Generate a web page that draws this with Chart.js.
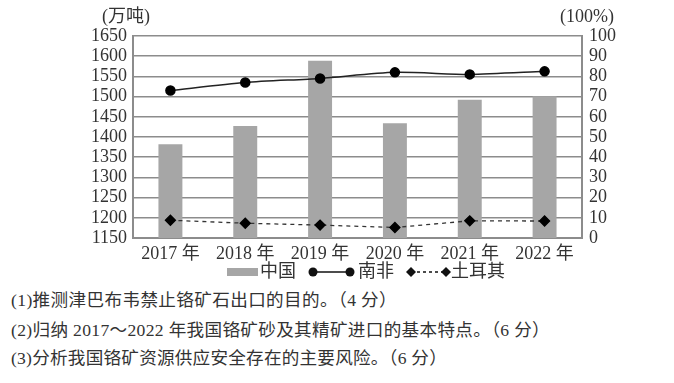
<!DOCTYPE html>
<html>
<head>
<meta charset="utf-8">
<script src="https://cdn.jsdelivr.net/npm/chart.js@4.4.0/dist/chart.umd.min.js"></script>
<style>
  html, body { margin: 0; padding: 0; background: #fff; }
  #wrap { position: relative; width: 674px; height: 383px; overflow: hidden; }
  canvas { position: absolute; left: 0; top: 0; }
  .q { position: absolute; left: 11px; white-space: nowrap; color: #333;
       font-family: "Liberation Serif", "Noto Sans CJK SC", serif; font-size: 17.6px; line-height: 20px; }
</style>
</head>
<body>
<div id="wrap">
  <canvas id="c" width="674" height="285"></canvas>
  <div class="q" data-right="397" style="top:290px">(1)推测津巴布韦禁止铬矿石出口的目的。（4 分）</div>
  <div class="q" data-right="550" style="top:320px">(2)归纳 2017～2022 年我国铬矿砂及其精矿进口的基本特点。（6 分）</div>
  <div class="q" data-right="447" style="top:348px">(3)分析我国铬矿资源供应安全存在的主要风险。（6 分）</div>
</div>
<script>
const categories = ["2017 年", "2018 年", "2019 年", "2020 年", "2021 年", "2022 年"];
const chinaImports = [1382, 1427, 1589, 1434, 1492, 1501];
const southAfricaShare = [73, 77, 79, 82, 81, 82.5];
const turkeyShare = [8.8, 7.3, 6.4, 5.2, 8.5, 8.4];
const leftTicks = [1150, 1650, 50];
const rightTicks = [0, 100, 10];
const leftTitle = "(万吨)";
const rightTitle = "(100%)";
const legendNames = ["中国", "南非", "土耳其"];

const FONT = '"Liberation Serif", "Noto Sans CJK SC", serif';
const TXT = '#333';
const GRID = '#8c8c8c';

// fit question lines to the reference widths
document.querySelectorAll('.q').forEach(el => {
  const target = parseFloat(el.dataset.right) - 11;
  const w = el.getBoundingClientRect().width;
  const n = el.textContent.length;
  if (n > 1) el.style.letterSpacing = ((target - w) / n).toFixed(3) + 'px';
});

const overlay = {
  id: 'overlay',
  afterDraw(chart) {
    const ctx = chart.ctx;
    ctx.save();
    ctx.fillStyle = TXT;
    ctx.font = '18px ' + FONT;
    ctx.textBaseline = 'middle';
    ctx.textAlign = 'left';
    ctx.fillText(leftTitle, 102, 17);
    ctx.fillText(rightTitle, 560, 17);
    // legend
    const ly = 272;
    ctx.fillStyle = '#a6a6a6';
    ctx.fillRect(227, ly - 4, 31, 8);
    ctx.fillStyle = TXT;
    ctx.fillText(legendNames[0], 260, ly);
    // South Africa
    ctx.strokeStyle = '#111';
    ctx.lineWidth = 1.5;
    ctx.beginPath(); ctx.moveTo(313, ly); ctx.lineTo(350, ly); ctx.stroke();
    ctx.fillStyle = '#111';
    [313, 350].forEach(x => { ctx.beginPath(); ctx.arc(x, ly, 4.5, 0, Math.PI * 2); ctx.fill(); });
    ctx.fillStyle = TXT;
    ctx.fillText(legendNames[1], 358, ly);
    // Turkey
    ctx.setLineDash([3, 3]);
    ctx.beginPath(); ctx.moveTo(411, ly); ctx.lineTo(446, ly); ctx.stroke();
    ctx.setLineDash([]);
    ctx.fillStyle = '#111';
    [411, 446].forEach(x => {
      ctx.beginPath(); ctx.moveTo(x, ly - 5); ctx.lineTo(x + 5, ly); ctx.lineTo(x, ly + 5); ctx.lineTo(x - 5, ly); ctx.closePath(); ctx.fill();
    });
    ctx.fillStyle = TXT;
    ctx.fillText(legendNames[2], 451, ly);
    ctx.restore();
  }
};

new Chart(document.getElementById('c'), {
  data: {
    labels: categories,
    datasets: [
      {
        type: 'line', label: legendNames[1], data: southAfricaShare, yAxisID: 'y1',
        borderColor: '#222', borderWidth: 1.5, tension: 0.25,
        pointBackgroundColor: '#000', pointBorderColor: '#000', pointRadius: 4.5, pointStyle: 'circle', order: 1
      },
      {
        type: 'line', label: legendNames[2], data: turkeyShare, yAxisID: 'y1',
        borderColor: '#333', borderWidth: 1.3, borderDash: [4, 4], tension: 0,
        pointBackgroundColor: '#000', pointBorderColor: '#000', pointRadius: 5, pointStyle: 'rectRot', order: 2
      },
      {
        type: 'bar', label: legendNames[0], data: chinaImports, yAxisID: 'y',
        backgroundColor: '#a6a6a6', borderWidth: 0,
        barPercentage: 0.32, categoryPercentage: 1, order: 3
      }
    ]
  },
  options: {
    responsive: false,
    animation: false,
    devicePixelRatio: 1,
    layout: { padding: { top: 36, left: 0, right: 0, bottom: 0 } },
    plugins: { legend: { display: false }, tooltip: { enabled: false } },
    scales: {
      x: {
        grid: { display: false, drawTicks: false },
        border: { display: true, color: GRID, width: 2 },
        ticks: { color: TXT, font: { family: FONT, size: 18 }, padding: 5, maxRotation: 0, autoSkip: false },
        afterFit(s) { s.height = 47; }
      },
      y: {
        position: 'left', min: leftTicks[0], max: leftTicks[1],
        ticks: { stepSize: leftTicks[2], autoSkip: false, color: TXT, font: { family: FONT, size: 18 }, padding: 6,
                 callback: v => String(v) },
        grid: { color: GRID, lineWidth: 1.6, drawTicks: false },
        border: { display: true, color: GRID, width: 2 },
        afterFit(s) { s.width = 133; }
      },
      y1: {
        position: 'right', min: rightTicks[0], max: rightTicks[1],
        ticks: { stepSize: rightTicks[2], autoSkip: false, color: TXT, font: { family: FONT, size: 18 }, padding: 7,
                 callback: v => String(v) },
        grid: { display: false, drawTicks: false },
        border: { display: true, color: GRID, width: 2 },
        afterFit(s) { s.width = 92; }
      }
    }
  },
  plugins: [overlay]
});
</script>
</body>
</html>
